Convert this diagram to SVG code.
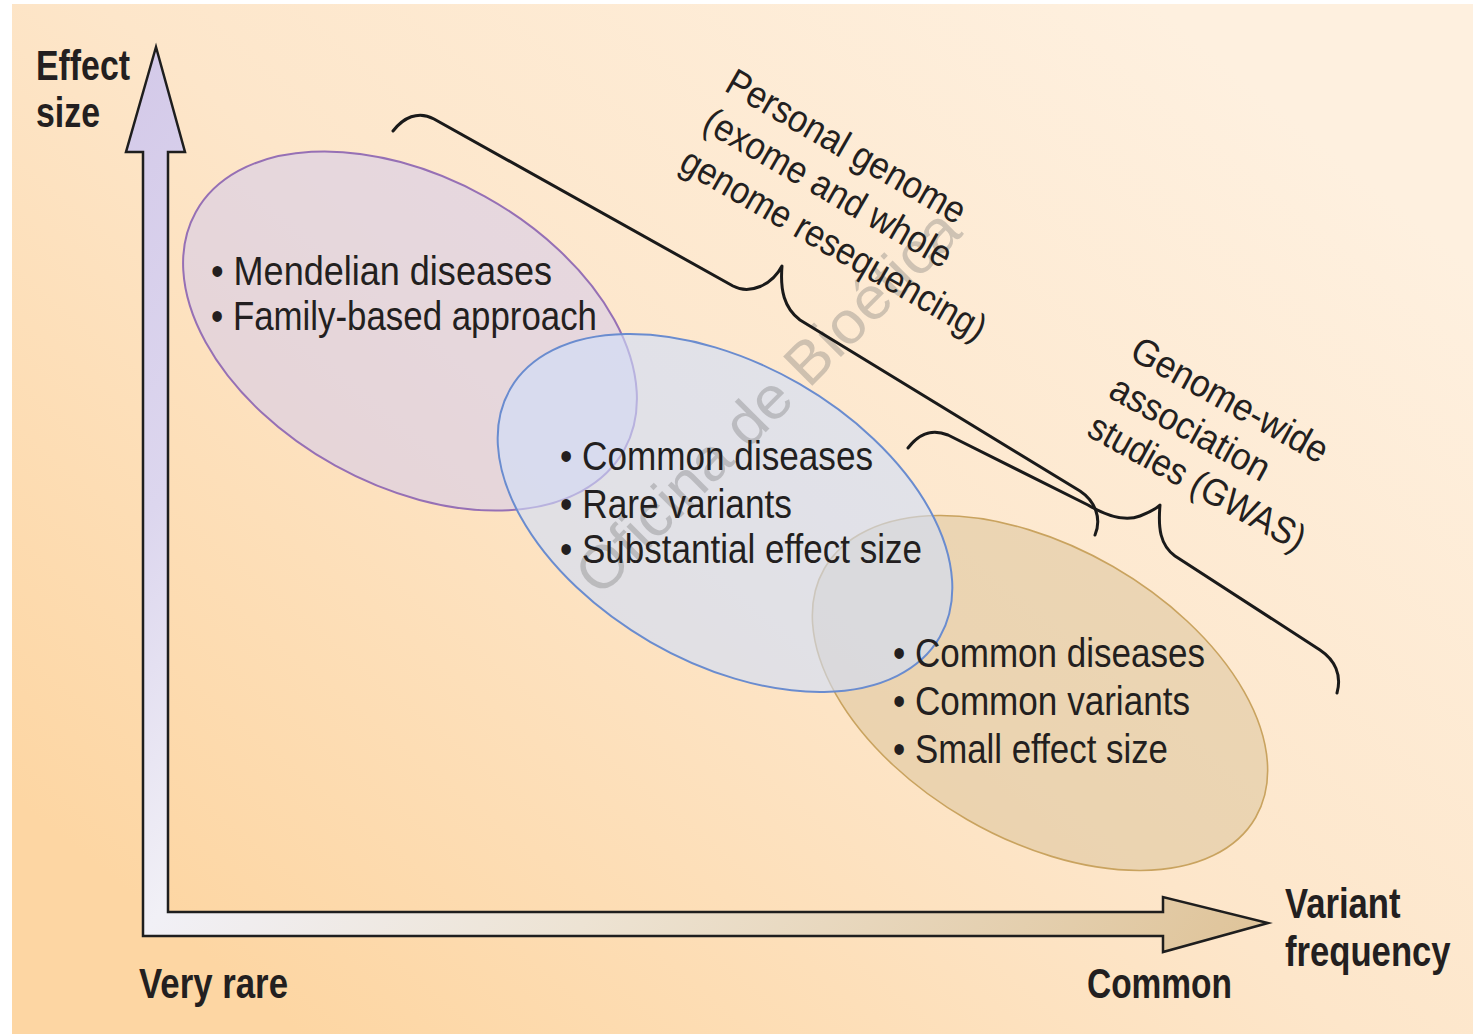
<svg xmlns="http://www.w3.org/2000/svg" width="1473" height="1034" viewBox="0 0 1473 1034">
  <defs>
    <linearGradient id="bg" gradientUnits="userSpaceOnUse" x1="1150" y1="0" x2="300" y2="1034">
      <stop offset="0" stop-color="#FEF0DF"/>
      <stop offset="0.5" stop-color="#FDE6CA"/>
      <stop offset="1" stop-color="#FDD6A3"/>
    </linearGradient>
    <linearGradient id="axisGrad" gradientUnits="userSpaceOnUse" x1="156" y1="47" x2="1268" y2="923">
      <stop offset="0" stop-color="#D4CAE9"/>
      <stop offset="0.2" stop-color="#DCD6EE"/>
      <stop offset="0.38" stop-color="#F1F0F6"/>
      <stop offset="0.62" stop-color="#EDE3D3"/>
      <stop offset="1" stop-color="#DFC49A"/>
    </linearGradient>
    <style>
      .lbl { font-family: "Liberation Sans", Arial, sans-serif; font-weight: bold; font-size: 42px; fill: #231F20; }
      .item { font-family: "Liberation Sans", Arial, sans-serif; font-size: 40px; fill: #231F20; }
      .rot { font-family: "Liberation Sans", Arial, sans-serif; font-size: 38px; fill: #231F20; }
      .brace { fill: none; stroke: #1A1A1A; stroke-width: 3; stroke-linecap: round; stroke-linejoin: round; }
      .wm { font-family: "Liberation Sans", Arial, sans-serif; font-size: 60px; fill: #6E6E6E; fill-opacity: 0.32; }
    </style>
  </defs>

  <rect x="0" y="0" width="1473" height="1034" fill="#FFFFFF"/>
  <rect x="12" y="4" width="1461" height="1030" fill="url(#bg)"/>

  <g id="axes">
    <path d="M143,152 L126,152 L156,47 L185,152 L168,152 L168,912 L1163,912 L1163,897 L1268,923 L1163,952 L1163,936 L143,936 Z" fill="url(#axisGrad)" stroke="#1E1E1E" stroke-width="2.5" stroke-linejoin="miter"/>
  </g>

  <g id="ellipse-mendelian">
    <ellipse cx="410" cy="331" rx="245" ry="154" transform="rotate(29 410 331)" fill="#D7CDEA" fill-opacity="0.6" stroke="#9670B5" stroke-width="2"/>
  </g>
  <g id="ellipse-gwas">
    <ellipse cx="1040" cy="693" rx="249" ry="146" transform="rotate(30 1040 693)" fill="#DCC59C" fill-opacity="0.55" stroke="#C9A35F" stroke-width="1.6"/>
  </g>
  <g id="ellipse-rare">
    <ellipse cx="725" cy="513" rx="248" ry="149" transform="rotate(30 725 513)" fill="#CFDDFA" fill-opacity="0.6" stroke="#6A8CCF" stroke-width="2"/>
  </g>

  <text class="wm" transform="translate(600,598) rotate(-45)" textLength="515" lengthAdjust="spacingAndGlyphs">Oficina de Bioética</text>

  <g id="labels-axes">
    <text class="lbl" x="36" y="80" textLength="94" lengthAdjust="spacingAndGlyphs">Effect</text>
    <text class="lbl" x="36" y="127" textLength="64" lengthAdjust="spacingAndGlyphs">size</text>
    <text class="lbl" x="139" y="998" textLength="149" lengthAdjust="spacingAndGlyphs">Very rare</text>
    <text class="lbl" x="1087" y="998" textLength="145" lengthAdjust="spacingAndGlyphs">Common</text>
    <text class="lbl" transform="translate(1285,918) scale(0.825,1)" x="0" y="0">Variant</text>
    <text class="lbl" transform="translate(1285,966) scale(0.825,1)" x="0" y="0">frequency</text>
  </g>

  <g id="text-mendelian">
    <text class="item" x="211" y="285" textLength="341" lengthAdjust="spacingAndGlyphs">• Mendelian diseases</text>
    <text class="item" x="211" y="330" textLength="386" lengthAdjust="spacingAndGlyphs">• Family-based approach</text>
  </g>
  <g id="text-rare">
    <text class="item" x="560" y="470" textLength="313" lengthAdjust="spacingAndGlyphs">• Common diseases</text>
    <text class="item" x="560" y="518" textLength="232" lengthAdjust="spacingAndGlyphs">• Rare variants</text>
    <text class="item" x="560" y="563" textLength="362" lengthAdjust="spacingAndGlyphs">• Substantial effect size</text>
  </g>
  <g id="text-gwas">
    <text class="item" x="893" y="667" textLength="312" lengthAdjust="spacingAndGlyphs">• Common diseases</text>
    <text class="item" x="893" y="715" textLength="297" lengthAdjust="spacingAndGlyphs">• Common variants</text>
    <text class="item" x="893" y="763" textLength="275" lengthAdjust="spacingAndGlyphs">• Small effect size</text>
  </g>

  <g id="label-personal-genome">
    <text class="rot" transform="translate(723,90) rotate(30)">
      <tspan x="0" y="0" textLength="270" lengthAdjust="spacingAndGlyphs">Personal genome</tspan>
      <tspan x="0" y="45" textLength="280" lengthAdjust="spacingAndGlyphs">(exome and whole</tspan>
      <tspan x="0" y="91" textLength="346" lengthAdjust="spacingAndGlyphs">genome resequencing)</tspan>
    </text>
  </g>
  <g id="label-gwas">
    <text class="rot" transform="translate(1128,358) rotate(29)">
      <tspan x="0" y="0" textLength="219" lengthAdjust="spacingAndGlyphs">Genome-wide</tspan>
      <tspan x="0" y="44" textLength="177" lengthAdjust="spacingAndGlyphs">association</tspan>
      <tspan x="0" y="88" textLength="242" lengthAdjust="spacingAndGlyphs">studies (GWAS)</tspan>
    </text>
  </g>

  <g id="connectors">
    <path class="brace" d="M393,131 C403,118 418,110 434,119 L733,286 C750,295 772,285 782,266 C780,290 784,308 800,320 L1080,491 C1095,501 1102,518 1095,535"/>
    <path class="brace" d="M908,448 C918,435 930,428 948,435 L1088,505 C1105,515 1125,522 1140,516 C1150,512 1156,509 1160,505 C1158,528 1160,545 1175,556 L1320,650 C1335,660 1342,675 1337,693"/>
  </g>
</svg>
